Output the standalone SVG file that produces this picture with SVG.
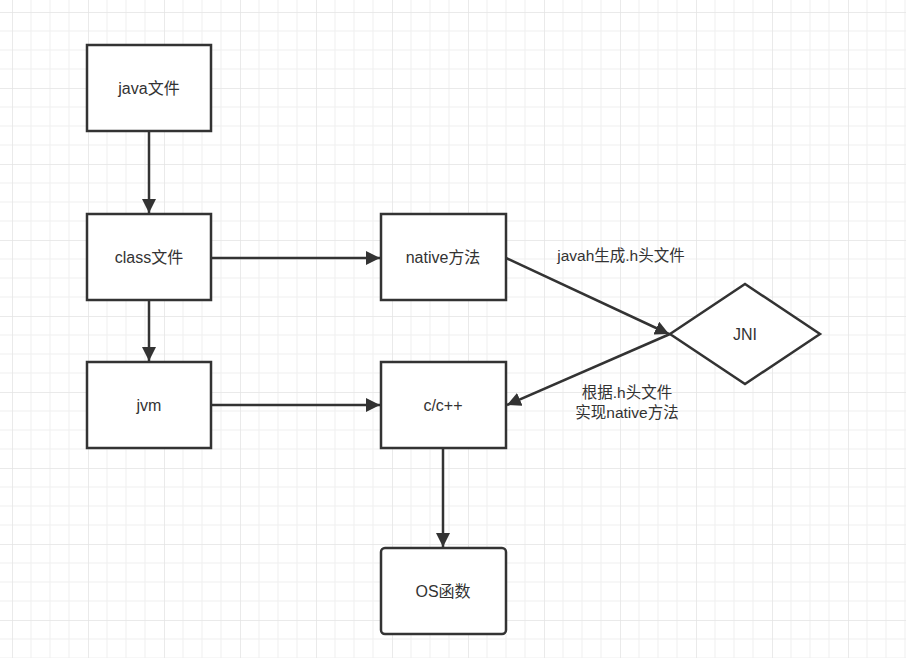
<svg xmlns="http://www.w3.org/2000/svg" width="906" height="658" viewBox="0 0 906 658">
<defs>
<pattern id="g" x="12" y="12" width="76" height="76" patternUnits="userSpaceOnUse">
<path d="M19 0V76M38 0V76M57 0V76M0 19H76M0 38H76M0 57H76" stroke="#efefef" stroke-width="1" fill="none"/>
<path d="M0 0V76M0 0H76" stroke="#e4e4e4" stroke-width="1.5" fill="none"/>
</pattern>
<marker id="b" viewBox="0 0 10 10" refX="10" refY="5" markerWidth="14" markerHeight="14" orient="auto" markerUnits="userSpaceOnUse"><path d="M0 0L10 5L0 10z" fill="#333"/></marker>
<style>
.n{fill:#fff;stroke:#333;stroke-width:2.5}
.t{font-family:"Liberation Sans","Noto Sans CJK SC",sans-serif;font-size:16px;fill:#333;text-anchor:middle}
.l{font-family:"Liberation Sans","Noto Sans CJK SC",sans-serif;font-size:15.5px;fill:#333;text-anchor:middle}
.c{stroke:#333;stroke-width:2.5;fill:none}
</style>
</defs>
<rect width="906" height="658" fill="#fff"/>
<rect width="906" height="658" fill="url(#g)"/>
<g id="connectors">
<path class="c" marker-end="url(#b)" d="M149 131V213"/>
<path class="c" marker-end="url(#b)" d="M211 258H380"/>
<path class="c" marker-end="url(#b)" d="M149 300V361"/>
<path class="c" marker-end="url(#b)" d="M211 405H380"/>
<path class="c" marker-end="url(#b)" d="M506 258L669 334"/>
<path class="c" marker-end="url(#b)" d="M670 334L507 405"/>
<path class="c" marker-end="url(#b)" d="M443 448V547"/>
<text class="l" x="621" y="261">javah生成.h头文件</text>
<text class="l" x="627" y="398">根据.h头文件</text>
<text class="l" x="627" y="418">实现native方法</text>
</g>
<g id="java"><rect class="n" x="87" y="45" width="124" height="86"/><text class="t" x="149" y="94">java文件</text></g>
<g id="class"><rect class="n" x="87" y="214" width="124" height="86"/><text class="t" x="149" y="263">class文件</text></g>
<g id="jvm"><rect class="n" x="87" y="362" width="124" height="86"/><text class="t" x="149" y="411">jvm</text></g>
<g id="native"><rect class="n" x="381" y="214" width="125" height="86"/><text class="t" x="443" y="263">native方法</text></g>
<g id="cpp"><rect class="n" x="381" y="362" width="125" height="86"/><text class="t" x="443" y="411">c/c++</text></g>
<g id="os"><rect class="n" x="381" y="548" width="125" height="86" rx="4"/><text class="t" x="443" y="597">OS函数</text></g>
<g id="jni"><path class="n" d="M670 334L745 284L820 334L745 384Z"/><text class="t" x="745" y="340">JNI</text></g>
</svg>
